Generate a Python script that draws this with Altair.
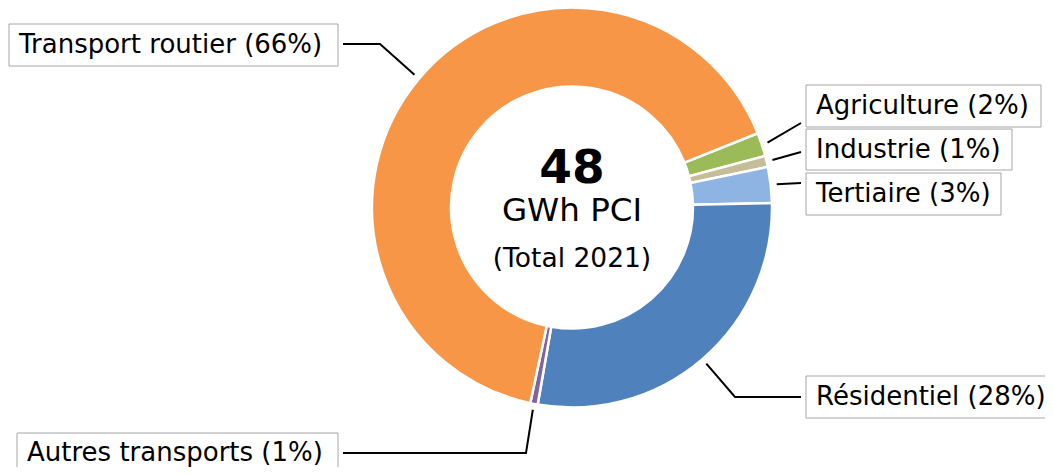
import math
import altair as alt
import pandas as pd

# ---- data ----
categories = ["Agriculture", "Industrie", "Tertiaire", "Résidentiel",
              "Autres transports", "Transport routier"]
shares = [1.9, 0.9, 2.9, 28.1, 0.6, 65.6]          # % of total
pct_labels = [2, 1, 3, 28, 1, 66]                   # rounded % shown in labels
total_gwh = 48
unit = "GWh PCI"
year = 2021

# ---- style / layout ----
colors = ["#9BBB59", "#C4BD97", "#8DB4E2", "#4F81BD", "#8064A2", "#F79646"]
OFF = 8  # page margin
CX, CY = 572 - OFF, 207.5 - OFF
R_OUT, R_IN = 200, 121
START = math.radians(68.2)
FONT = "DejaVu Sans"

# label boxes (page coords): x1, y1, x2, y2 ; connector bend points after the slice point
layout = {
    "Agriculture": dict(box=(806, 85, 1041, 127), pts=[(801, 123)]),
    "Industrie": dict(box=(806, 129, 1012, 170), pts=[(801, 152)]),
    "Tertiaire": dict(box=(806, 173, 1001, 215), pts=[(801, 183)]),
    "Résidentiel": dict(box=(806, 376, 1070, 418), pts=[(735, 397), (801, 397)]),
    "Autres transports": dict(box=(17, 433, 338, 473), pts=[(526, 453), (343, 453)]),
    "Transport routier": dict(box=(9, 24, 338, 66), pts=[(380, 44), (343, 44)]),
}

df = pd.DataFrame({"idx": range(len(categories)), "cat": categories, "share": shares})

# connector lines: start on the slice mid-angle, just outside the ring
tot = sum(shares)
rows, boxes, texts = [], [], []
cum = 0.0
for i, (c, s, p) in enumerate(zip(categories, shares, pct_labels)):
    mid = START + 2 * math.pi * (cum + s / 2) / tot
    cum += s
    r = R_OUT * 1.03
    rows.append(dict(cat=c, seq=0, x=CX + r * math.sin(mid), y=CY - r * math.cos(mid)))
    for j, (px, py) in enumerate(layout[c]["pts"]):
        rows.append(dict(cat=c, seq=j + 1, x=px - OFF, y=py - OFF))
    x1, y1, x2, y2 = layout[c]["box"]
    boxes.append(dict(cat=c, x=x1 - OFF, x2=x2 - OFF, y=y1 - OFF, y2=y2 - OFF))
    texts.append(dict(cat=c, x=x1 - OFF + 10, y=(y1 + y2) / 2 - OFF, label=f"{c} ({p}%)"))

lines_df = pd.DataFrame(rows)
boxes_df = pd.DataFrame(boxes)
texts_df = pd.DataFrame(texts)

arc = alt.Chart(df).mark_arc(
    outerRadius=R_OUT, innerRadius=R_IN, stroke="white", strokeWidth=2.5
).encode(
    theta=alt.Theta("share:Q", stack=True,
                    scale=alt.Scale(range=[START, START + 2 * math.pi])),
    order=alt.Order("idx:Q"),
    color=alt.Color("cat:N", scale=alt.Scale(domain=categories, range=colors), legend=None),
    x=alt.value(CX), y=alt.value(CY),
)

lines = alt.Chart(lines_df).mark_line(color="black", strokeWidth=2).encode(
    x=alt.X("x:Q", scale=None, axis=None),
    y=alt.Y("y:Q", scale=None, axis=None),
    detail="cat:N",
    order="seq:Q",
)

rects = alt.Chart(boxes_df).mark_rect(fill="white", stroke="#a6a6a6", strokeWidth=1).encode(
    x=alt.X("x:Q", scale=None, axis=None), x2="x2:Q",
    y=alt.Y("y:Q", scale=None, axis=None), y2="y2:Q",
)

labels = alt.Chart(texts_df).mark_text(
    font=FONT, fontSize=26, align="left", baseline="middle", color="black"
).encode(
    x=alt.X("x:Q", scale=None, axis=None),
    y=alt.Y("y:Q", scale=None, axis=None),
    text="label:N",
)

center_df = pd.DataFrame({
    "t": [str(total_gwh), unit, f"(Total {year})"],
    "y": [183 - OFF, 221 - OFF, 267 - OFF],
})

c1 = alt.Chart(center_df.iloc[[0]]).mark_text(
    font=FONT, fontSize=47, fontWeight="bold", align="center", baseline="alphabetic", color="black"
).encode(x=alt.value(CX), y=alt.Y("y:Q", scale=None, axis=None), text="t:N")
c2 = alt.Chart(center_df.iloc[[1]]).mark_text(
    font=FONT, fontSize=32.5, align="center", baseline="alphabetic", color="black"
).encode(x=alt.value(CX), y=alt.Y("y:Q", scale=None, axis=None), text="t:N")
c3 = alt.Chart(center_df.iloc[[2]]).mark_text(
    font=FONT, fontSize=26.5, align="center", baseline="alphabetic", color="black"
).encode(x=alt.value(CX), y=alt.Y("y:Q", scale=None, axis=None), text="t:N")

chart = alt.layer(arc, lines, rects, labels, c1, c2, c3).properties(
    width=1037, height=459,
    autosize=alt.AutoSizeParams(type="none"),
    padding=0,
).configure_view(stroke=None)

chart.save("out.html", embed_options={"renderer": "svg", "actions": False})
